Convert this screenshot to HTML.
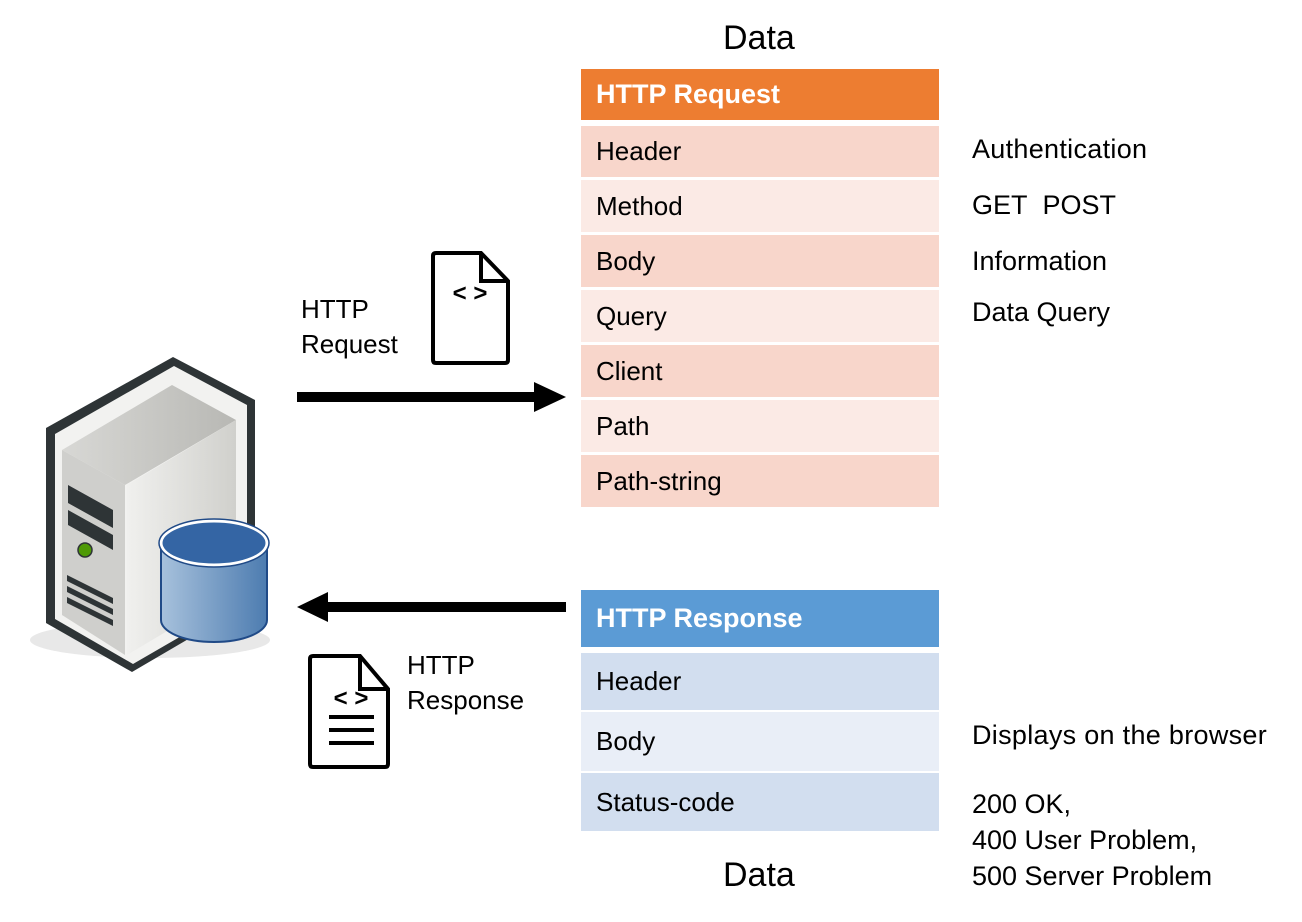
<!DOCTYPE html>
<html><head><meta charset="utf-8"><style>
body{margin:0;width:1302px;height:922px;background:#fff;position:relative;overflow:hidden;font-family:"Liberation Sans",sans-serif;}
.r{position:absolute;left:581px;width:358px;box-sizing:border-box;padding-left:15px;font-size:26px;color:#000;display:flex;align-items:center;}
.t{position:absolute;font-size:27px;color:#000;white-space:nowrap;line-height:1.2;}
.h{color:#fff;font-weight:bold;font-size:27px;}
</style></head><body>
<div class="t" style="left:723px;top:18px;font-size:34px">Data</div>
<div class="t" style="left:723px;top:855px;font-size:34px">Data</div>

<div class="r h" style="top:69px;height:51px;background:#ED7D31">HTTP Request</div>
<div class="r" style="top:126px;height:51px;background:#F8D6CB">Header</div>
<div class="r" style="top:180px;height:52px;background:#FBEAE5">Method</div>
<div class="r" style="top:235px;height:52px;background:#F8D6CB">Body</div>
<div class="r" style="top:290px;height:52px;background:#FBEAE5">Query</div>
<div class="r" style="top:345px;height:52px;background:#F8D6CB">Client</div>
<div class="r" style="top:400px;height:52px;background:#FBEAE5">Path</div>
<div class="r" style="top:455px;height:52px;background:#F8D6CB">Path-string</div>

<div class="r h" style="top:590px;height:57px;background:#5B9BD5">HTTP Response</div>
<div class="r" style="top:653px;height:57px;background:#D2DEEF">Header</div>
<div class="r" style="top:712px;height:59px;background:#E9EEF7">Body</div>
<div class="r" style="top:773px;height:58px;background:#D2DEEF">Status-code</div>

<div class="t" style="left:972px;top:133px;letter-spacing:0.3px">Authentication</div>
<div class="t" style="left:972px;top:189px">GET&nbsp;&nbsp;POST</div>
<div class="t" style="left:972px;top:245px">Information</div>
<div class="t" style="left:972px;top:296px">Data Query</div>
<div class="t" style="left:972px;top:719px;letter-spacing:0.3px">Displays on the browser</div>
<div class="t" style="left:972px;top:786px;line-height:36px">200 OK,<br>400 User Problem,<br>500 Server Problem</div>

<div class="t" style="left:301px;top:292px;line-height:35px;font-size:26px">HTTP<br>Request</div>
<div class="t" style="left:407px;top:648px;line-height:35px;font-size:26px">HTTP<br>Response</div>

<svg width="1302" height="922" style="position:absolute;left:0;top:0">
<rect x="297" y="392" width="240" height="10" fill="#000"/>
<polygon points="534,382 566,397 534,412" fill="#000"/>
<rect x="325" y="602" width="241" height="10" fill="#000"/>
<polygon points="328,592 297,607 328,622" fill="#000"/>
<path d="M436,253 H481 L508,281 V360 Q508,363 505,363 H436 Q433,363 433,360 V256 Q433,253 436,253 Z" fill="#fff" stroke="#000" stroke-width="4"/>
<path d="M481,253 V281 H508" fill="none" stroke="#000" stroke-width="4"/>
<text x="470" y="301" font-size="24" font-weight="bold" text-anchor="middle" font-family="Liberation Sans">&lt; &gt;</text>
<path d="M313,656 H360 L388,689 V764 Q388,767 385,767 H313 Q310,767 310,764 V659 Q310,656 313,656 Z" fill="#fff" stroke="#000" stroke-width="4"/>
<path d="M360,656 V689 H388" fill="none" stroke="#000" stroke-width="4"/>
<text x="351" y="706" font-size="24" font-weight="bold" text-anchor="middle" font-family="Liberation Sans">&lt; &gt;</text>
<rect x="329" y="715" width="45" height="4" fill="#000"/>
<rect x="329" y="728" width="45" height="4" fill="#000"/>
<rect x="329" y="741" width="45" height="4" fill="#000"/>
<defs>
<linearGradient id="sf" x1="0" x2="1"><stop offset="0" stop-color="#d8d8d5"/><stop offset="1" stop-color="#b8b8b4"/></linearGradient>
<linearGradient id="ss" x1="0" x2="1"><stop offset="0" stop-color="#f0f0ee"/><stop offset="1" stop-color="#d0d0cc"/></linearGradient>
<linearGradient id="cy" x1="0" x2="1"><stop offset="0" stop-color="#a7c1dc"/><stop offset="1" stop-color="#4d7cb0"/></linearGradient>
</defs>
<ellipse cx="150" cy="640" rx="120" ry="18" fill="#e8e8e8"/>
<polygon points="46,428 173,357 255,400 255,600 132,672 46,623" fill="#2e3436"/>
<polygon points="55,434 174,366 247,405 247,598 133,664 55,619" fill="#f2f2f0"/>
<polygon points="62,450 172,385 236,420 125,485" fill="url(#sf)"/>
<polygon points="62,450 125,485 125,655 62,615" fill="#cfcfcc"/>
<polygon points="127,485 236,420 236,590 127,655" fill="url(#ss)"/>
<polygon points="68,485 113,510 113,528 68,503" fill="#2e3436"/>
<polygon points="68,510 113,535 113,550 68,525" fill="#2e3436"/>
<circle cx="85" cy="550" r="7" fill="#4e9a06" stroke="#2e3436" stroke-width="1.5"/>
<polygon points="67,575 113,598 113,604 67,581" fill="#2e3436"/>
<polygon points="67,586 113,609 113,615 67,592" fill="#2e3436"/>
<polygon points="67,597 113,620 113,626 67,603" fill="#2e3436"/>
<path d="M161,543 V620 A53,22 0 0 0 267,620 V543 Z" fill="url(#cy)" stroke="#204a87" stroke-width="2"/>
<ellipse cx="214" cy="543" rx="53" ry="22" fill="#3465a4" stroke="#fff" stroke-width="3"/>
<ellipse cx="214" cy="543" rx="55" ry="24" fill="none" stroke="#204a87" stroke-width="1.5"/>
</svg>
</body></html>
